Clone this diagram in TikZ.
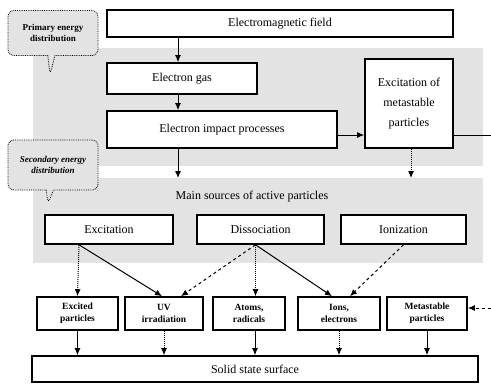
\documentclass[tikz,border=0pt]{standalone}
\usepackage{fontspec}
\setmainfont{Liberation Serif}
\usetikzlibrary{calc,shapes.callouts,arrows.meta}

\begin{document}
\begin{tikzpicture}[x=1pt, y=-1pt,
    box/.style={draw, line width=1.6pt, fill=white, inner sep=2pt, align=center, font=\fontsize{12}{20}\selectfont},
    small/.style={draw, line width=1.6pt, fill=white, inner sep=1pt, align=center, minimum height=33, font=\fontsize{9.5}{12}\selectfont\bfseries},
    note/.style={rectangle callout, draw, densely dotted, thick, rounded corners=6pt, fill=gray!22, align=center, font=\fontsize{9}{11}\selectfont\bfseries},
    arr/.style={-{Latex[length=7pt, width=6pt]}, line width=1pt},
    shade/.style={fill=gray!22}]
        \useasboundingbox (0,0) rectangle (491,386);

        % Shaded zones
        \fill[shade] (33,48) rectangle (483,166);
        \fill[shade] (33,178) rectangle (483,263);

        % Draw nodes
        \node[box, minimum width=346, minimum height=27] (emf) at (280,23.5) {Electromagnetic field};
        \node[box, minimum width=150, minimum height=31] (gas) at (182,78.5) {Electron gas};
        \node[box, minimum width=230, minimum height=37] (impact) at (222,129.5) {Electron impact processes};
        \node[box, minimum width=88, minimum height=89] (meta) at (409,103.5) {Excitation of\\metastable\\particles};
        \node[font=\fontsize{12}{14}\selectfont] (src) at (252,197) {Main sources of active particles};
        \node[box, minimum width=128, minimum height=29] (exc) at (109,229.5) {Excitation};
        \node[box, minimum width=127, minimum height=29] (diss) at (260.5,229.5) {Dissociation};
        \node[box, minimum width=125, minimum height=29] (ion) at (403.5,229.5) {Ionization};
        \node[small, minimum width=81] (excp) at (77.5,313.5) {Excited\\particles};
        \node[small, minimum width=78] (uv) at (164,313.5) {UV\\irradiation};
        \node[small, minimum width=72] (atoms) at (249,313.5) {Atoms,\\radicals};
        \node[small, minimum width=82] (ions) at (339,313.5) {Ions,\\electrons};
        \node[small, minimum width=80] (metp) at (427,313.5) {Metastable\\particles};
        \node[box, minimum width=446, minimum height=26] (surf) at (255,369) {Solid state surface};

        % Callouts
        \node[note, minimum width=90, minimum height=45, callout absolute pointer={(50,75)}] (prim) at (53,33) {Primary energy\\distribution};
        \node[note, minimum width=90, minimum height=50, callout absolute pointer={(48,204)}, font=\fontsize{9}{11}\selectfont\bfseries\itshape] (sec) at (53,165) {Secondary energy\\distribution};

        % Free ends
        \coordinate (hline) at (0,135);
        \coordinate (metaout) at (491,135);
        \coordinate (srcL) at (178,178);
        \coordinate (srcR) at (411,178);
        \coordinate (metpin) at (491,308);
        \coordinate (excfoot) at ($(exc.south)+(-30,0)$);
        \coordinate (dissfoot) at ($(diss.south)+(-5,0)$);

        % Draw connections
        \draw[arr] (emf.south -| srcL) -- (gas.north -| srcL);
        \draw[arr] (gas.south -| srcL) -- (impact.north -| srcL);
        \draw[arr] (impact.east |- hline) -- (meta.west |- hline);
        \draw[line width=1pt] (meta.east |- hline) -- (metaout);
        \draw[arr] (impact.south -| srcL) -- (srcL);
        \draw[arr, densely dotted] (meta.south -| srcR) -- (srcR);

        \draw[arr, densely dotted] (excfoot) -- (excp.north);
        \draw[arr] (excfoot) -- ($(uv.north)+(-2,0)$);
        \draw[arr, dashed] (dissfoot) -- ($(uv.north)+(17,0)$);
        \draw[arr, densely dotted] (dissfoot) -- (dissfoot |- atoms.north);
        \draw[arr] (dissfoot) -- ($(ions.north)+(-7,0)$);
        \draw[arr, dashed] (ion.south) -- ($(ions.north)+(11,0)$);
        \draw[arr, dashed] (metpin) -- (metp.east |- metpin);

        \draw[arr] (excp.south) -- (excp.south |- surf.north);
        \draw[arr, densely dotted] (uv.south) -- (uv.south |- surf.north);
        \draw[arr] ($(atoms.south)+(6,0)$) -- ($(atoms.south |- surf.north)+(6,0)$);
        \draw[arr, densely dotted] (ions.south) -- (ions.south |- surf.north);
        \draw[arr] (metp.south) -- (metp.south |- surf.north);
    \end{tikzpicture}
\end{document}
